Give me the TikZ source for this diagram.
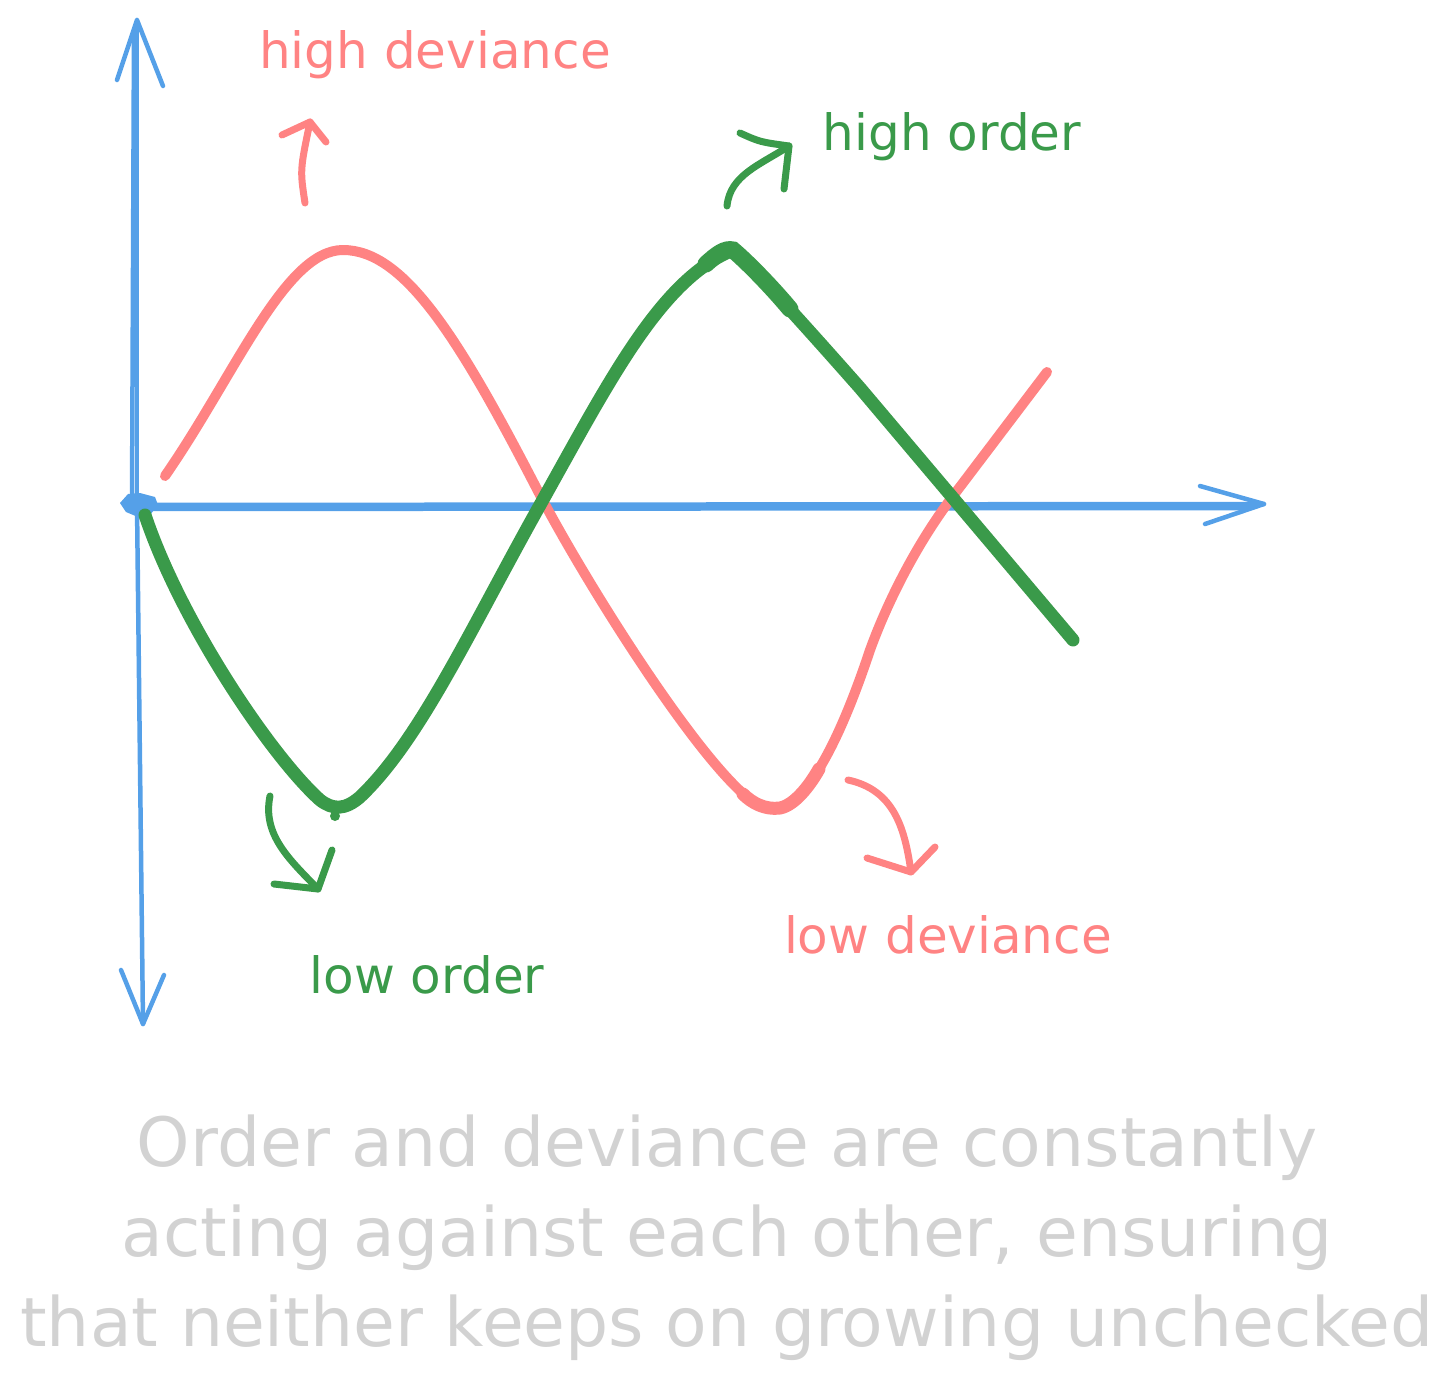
\documentclass[tikz,border=0pt]{standalone}
\usepackage{fontspec}
\setmainfont{DejaVu Sans}
\definecolor{axisblue}{HTML}{55A0E8}
\definecolor{pinkc}{HTML}{FF8383}
\definecolor{greenc}{HTML}{3A9A4A}
\definecolor{capgray}{HTML}{D2D2D2}
\begin{document}
\begin{tikzpicture}[x=1pt,y=-1pt,
  axis/.style={draw=axisblue,line width=4.5pt,line cap=round,line join=round},
  pinkline/.style={draw=pinkc,line width=10pt,line cap=round,line join=round},
  greenline/.style={draw=greenc,line width=13pt,line cap=round,line join=round},
  pinkarr/.style={draw=pinkc,line width=7pt,line cap=round,line join=round},
  greenarr/.style={draw=greenc,line width=7pt,line cap=round,line join=round},
  lbl/.style={font=\fontsize{50}{60}\selectfont,inner sep=0pt},
  captxt/.style={font=\fontsize{68}{82}\selectfont,text=capgray,inner sep=0pt}]
\useasboundingbox (0,0) rectangle (1455,1391);
% axes
\coordinate (O) at (137,505);
\coordinate (Ytop) at (137,20);
\coordinate (Ybot) at (143,1024);
\coordinate (Xend) at (1264,504);
\draw[axis] (O) -- (Ytop);
\draw[axis] (132,505) -- (134,30);
\draw[axis] (O) -- (Ybot);
\draw[axis] (O) -- (Xend);
\draw[axis] (140,509) -- (1250,508);
\draw[axis] (117,80) -- (Ytop) -- (163,86);
\draw[axis] (121,970) -- (Ybot) -- (164,975);
\draw[axis] (1200,486) -- (Xend) -- (1205,524);
\fill[axisblue] (120,503) -- (128,494) -- (140,493) -- (155,497) -- (158,505) -- (150,515) -- (138,517) -- (126,512) -- cycle;
% pink curve
\draw[pinkline] (165,476) .. controls (235,375) and (285,250) .. (343,250)
  .. controls (405,250) and (460,340) .. (540,495)
  .. controls (590,590) and (710,780) .. (760,806)
  .. controls (800,826) and (840,740) .. (870,650)
  .. controls (890,595) and (920,540) .. (950,500)
  -- (1047,372);
\draw[pinkc,line width=13pt,line cap=round] (743,794) .. controls (752,803) and (765,810) .. (780,808) .. controls (795,805) and (810,785) .. (819,769);
% green curve
\draw[greenline] (145,515) .. controls (180,620) and (270,755) .. (320,800)
  .. controls (333,810) and (345,810) .. (360,797)
  .. controls (420,740) and (470,630) .. (540,505)
  .. controls (610,380) and (660,280) .. (733,250)
  .. controls (750,265) and (800,320) .. (860,388)
  -- (1073,640);
\draw[greenc,line width=17pt,line cap=round] (706,264) .. controls (717,254) and (725,248) .. (733,250) .. controls (745,260) and (770,285) .. (790,309);
\fill[greenc] (335,816) circle (5);
% small arrows
\coordinate (pa1s) at (305,203);
\coordinate (pa1t) at (310,122);
\draw[pinkarr] (pa1s) .. controls (300,170) .. (pa1t);
\draw[pinkarr] (282,135) -- (pa1t) -- (326,142);
\coordinate (ga1s) at (727,206);
\coordinate (ga1t) at (789,146);
\draw[greenarr] (ga1s) .. controls (730,175) and (760,165) .. (ga1t);
\draw[greenarr] (740,133) .. controls (760,142) .. (ga1t) -- (784,189);
\coordinate (ga2s) at (270,796);
\coordinate (ga2t) at (318,889);
\draw[greenarr] (ga2s) .. controls (262,835) and (290,860) .. (ga2t);
\draw[greenarr] (274,884) -- (ga2t) -- (332,850);
\coordinate (pa2s) at (848,780);
\coordinate (pa2t) at (911,872);
\draw[pinkarr] (pa2s) .. controls (895,790) and (905,830) .. (pa2t);
\draw[pinkarr] (867,858) -- (pa2t) -- (935,847);
% labels
\node[lbl,text=pinkc] (hd) at (435,55) {high deviance};
\node[lbl,text=greenc] (ho) at (952,137) {high order};
\node[lbl,text=greenc] (lo) at (427,975) {low order};
\node[lbl,text=pinkc] (ld) at (948,935) {low deviance};
% caption
\node[captxt] (c1) at (727,1148) {Order and deviance are constantly};
\node[captxt] (c2) at (727,1238) {acting against each other, ensuring};
\node[captxt] (c3) at (727,1328) {that neither keeps on growing unchecked};
\end{tikzpicture}
\end{document}
